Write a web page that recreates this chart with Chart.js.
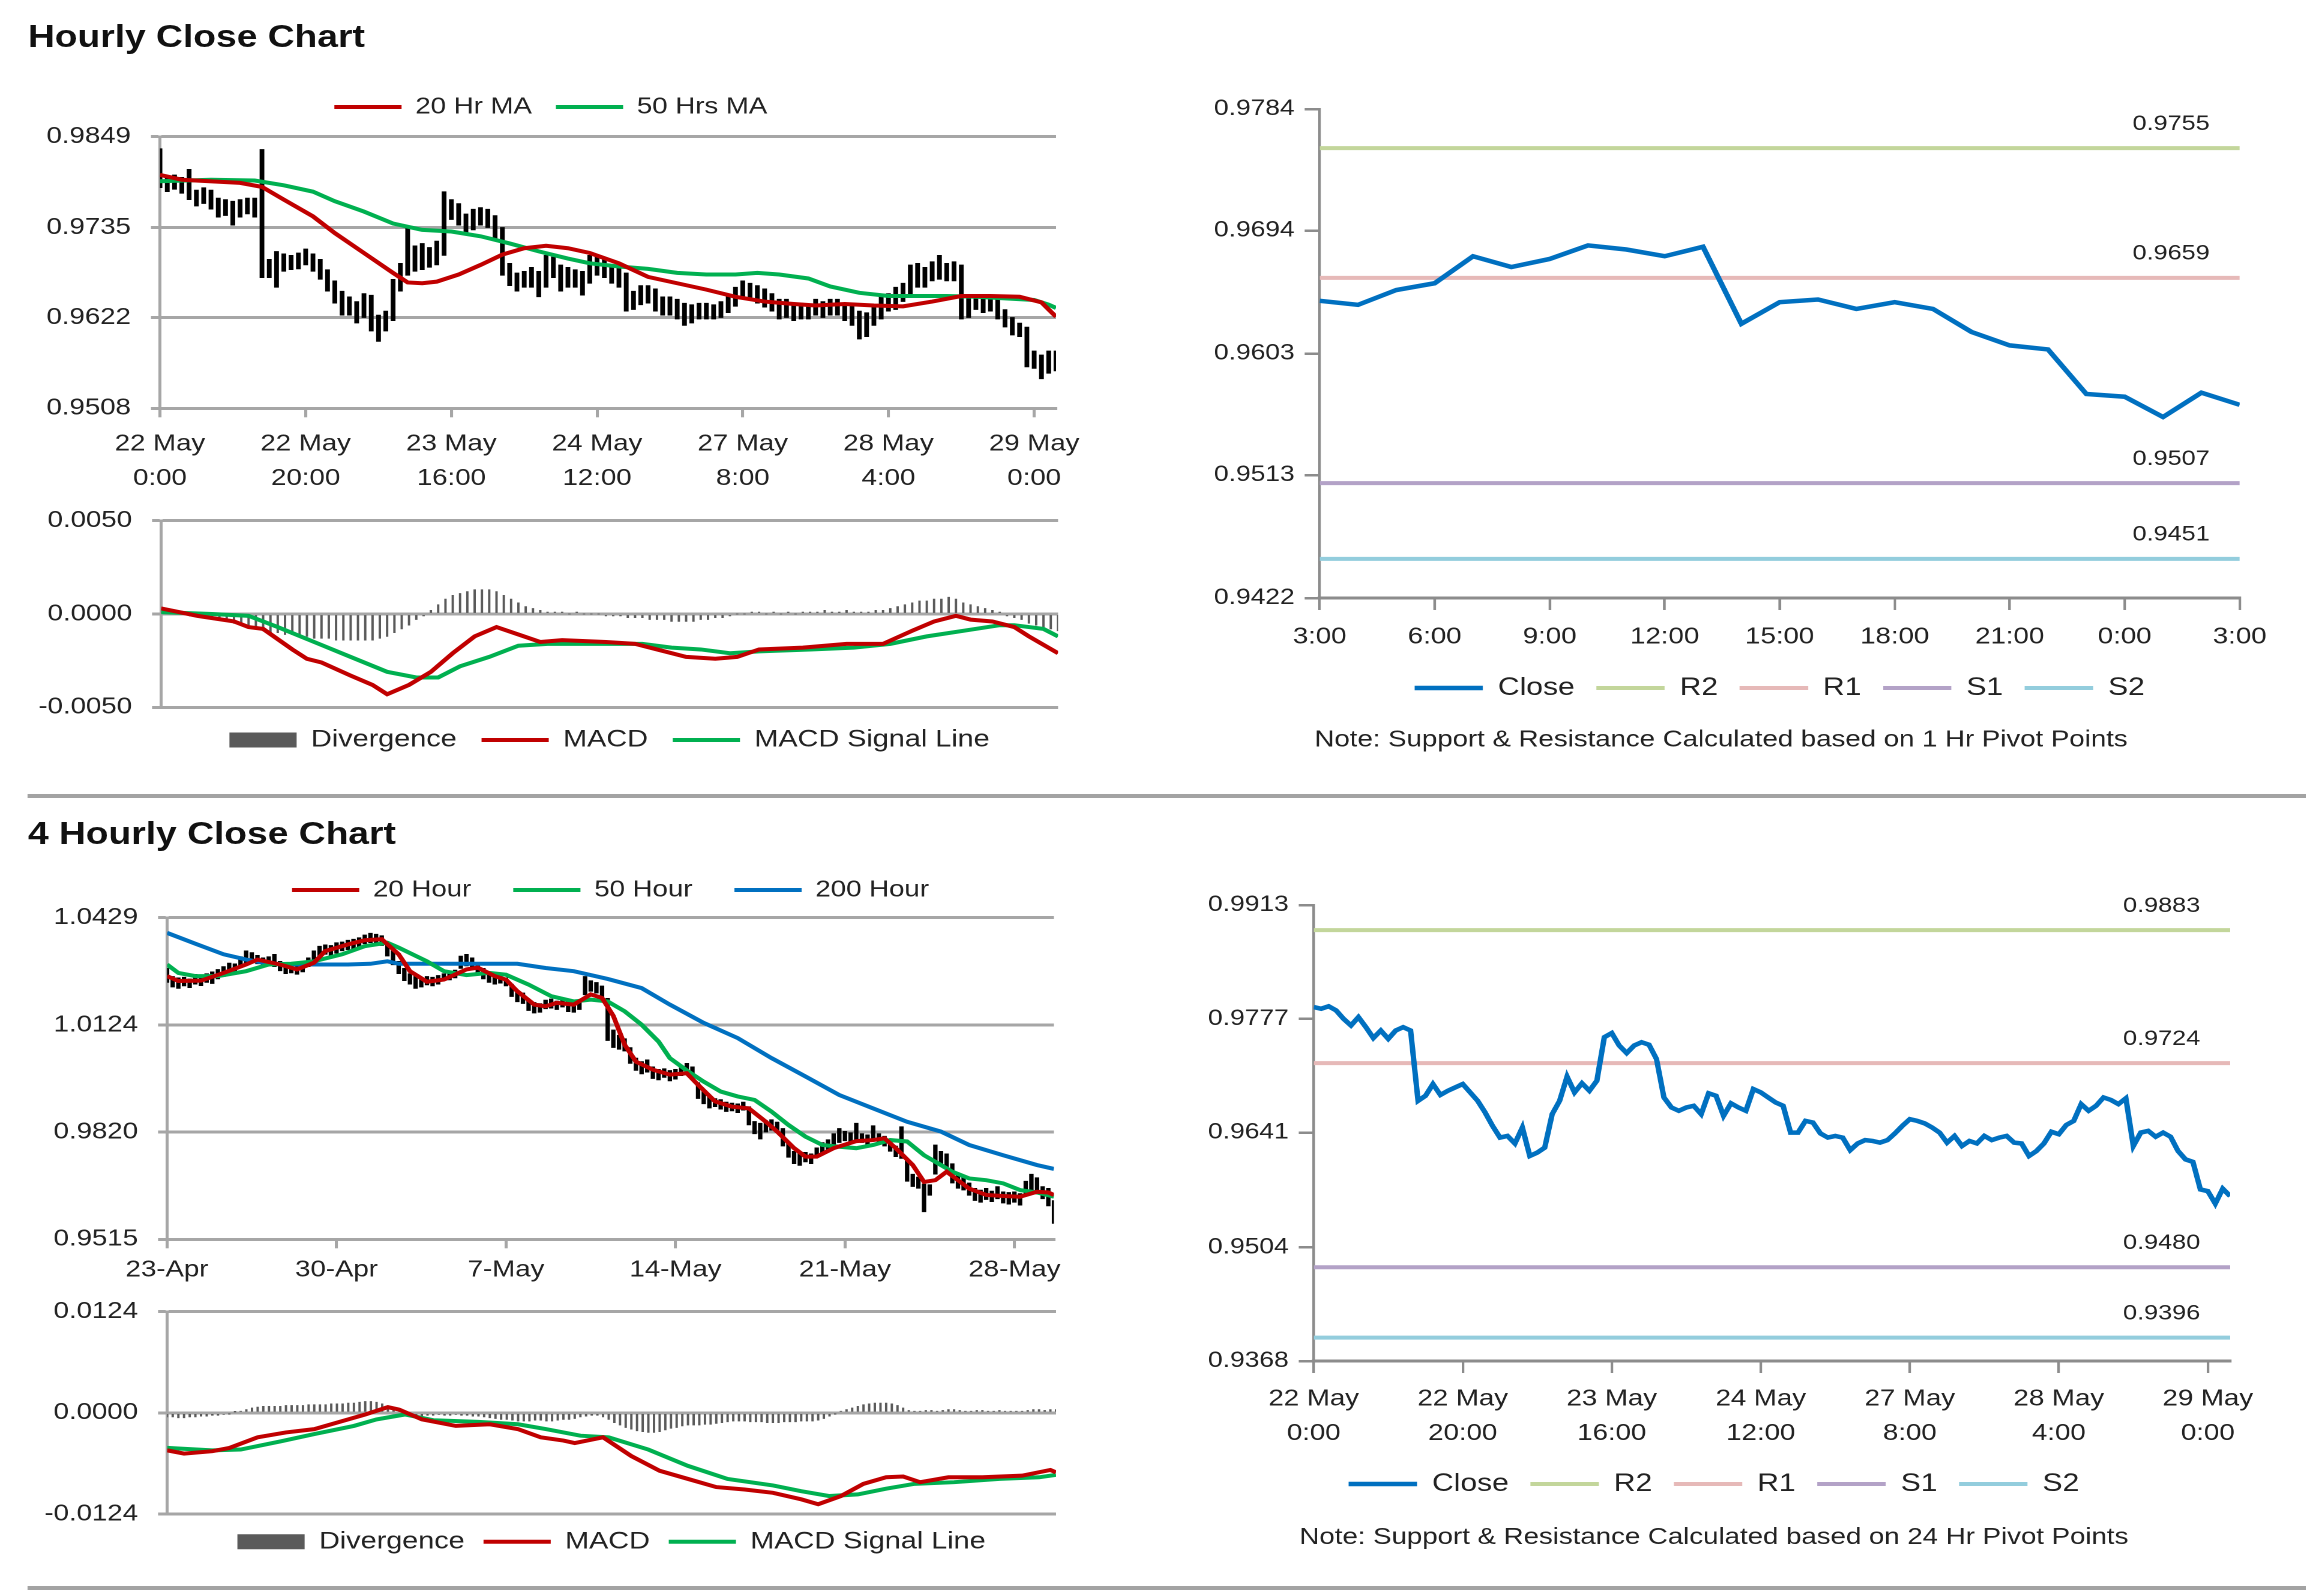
<!DOCTYPE html>
<html>
<head>
<meta charset="utf-8">
<script src="https://cdn.jsdelivr.net/npm/chart.js@4.4.0/dist/chart.umd.min.js"></script>
<style>
  body { margin: 0; background: #fff; width: 2306px; height: 1591px; position: relative; overflow: hidden;
         font-family: "Liberation Sans", Arial, sans-serif; }
  /* the source sheet is drawn 1.2x wider than tall; lay out at 1/1.2 width and stretch */
  #page { position: absolute; left: 0; top: 0; width: 1921.67px; height: 1591px;
          transform: scaleX(1.2); transform-origin: 0 0; }
  .heading { position: absolute; left: 23.3px; font-size: 31px; font-weight: bold; line-height: 1; color: #111; }
  .rule { position: absolute; left: 23.3px; right: 0; height: 4px; background: #a3a3a3; }
  .box { position: absolute; }
</style>
</head>
<body>
<div id="page">
  <div class="heading" style="top:21px">Hourly Close Chart</div>
  <div class="box" style="left:0;top:60px;width:908.3px;height:440px"><canvas id="hourPrice"></canvas></div>
  <div class="box" style="left:0;top:505px;width:908.3px;height:270px"><canvas id="hourMacd"></canvas></div>
  <div class="box" style="left:958.3px;top:85px;width:950px;height:679px"><canvas id="dayClose"></canvas></div>
  <div class="rule" style="top:794px"></div>
  <div class="heading" style="top:818px">4 Hourly Close Chart</div>
  <div class="box" style="left:0;top:840px;width:908.3px;height:450px"><canvas id="fourPrice"></canvas></div>
  <div class="box" style="left:0;top:1295px;width:908.3px;height:280px"><canvas id="fourMacd"></canvas></div>
  <div class="box" style="left:958.3px;top:880px;width:941.7px;height:681px"><canvas id="weekClose"></canvas></div>
  <div class="rule" style="top:1586px"></div>
</div>

<script>
// ---- hourly chart (22 May 0:00 .. 29 May 3:00, one bar per hour) ----
const hourLabels = [['22 May', '0:00'], ['22 May', '20:00'], ['23 May', '16:00'], ['24 May', '12:00'],
                    ['27 May', '8:00'], ['28 May', '4:00'], ['29 May', '0:00']];
const hourPriceTicks = [0.9508, 0.9622, 0.9735, 0.9849];
const hourMacdTicks = [-0.0050, 0, 0.0050];

const closeH = [
  0.9791, 0.9789, 0.9792, 0.9787, 0.9777, 0.9769, 0.9779, 0.9767, 0.9754, 0.9763,
  0.9753, 0.9763, 0.9767, 0.9763, 0.9679, 0.9685, 0.9699, 0.9686, 0.9691, 0.9695,
  0.9699, 0.9689, 0.9679, 0.9665, 0.9649, 0.9635, 0.9637, 0.9628, 0.9647, 0.9613,
  0.9617, 0.9623, 0.9663, 0.9679, 0.9708, 0.9689, 0.9700, 0.9691, 0.9703, 0.9755,
  0.9760, 0.9745, 0.9736, 0.9745, 0.9749, 0.9746, 0.9729, 0.9683, 0.9671, 0.9667,
  0.9671, 0.9673, 0.9663, 0.9688, 0.9685, 0.9661, 0.9676, 0.9671, 0.9667, 0.9693,
  0.9689, 0.9683, 0.9677, 0.9673, 0.9641, 0.9641, 0.9655, 0.9653, 0.9640, 0.9635,
  0.9637, 0.9635, 0.9620, 0.9628, 0.9632, 0.9631, 0.9629, 0.9632, 0.9640, 0.9649,
  0.9657, 0.9655, 0.9652, 0.9647, 0.9641, 0.9629, 0.9637, 0.9625, 0.9631, 0.9628,
  0.9637, 0.9632, 0.9635, 0.9637, 0.9629, 0.9628, 0.9613, 0.9619, 0.9628, 0.9642,
  0.9639, 0.9650, 0.9655, 0.9675, 0.9667, 0.9673, 0.9683, 0.9680, 0.9675, 0.9682,
  0.9625, 0.9641, 0.9643, 0.9636, 0.9641, 0.9636, 0.9619, 0.9609, 0.9606, 0.9573,
  0.9571, 0.9556, 0.9574, 0.9565
];
const lowH = [
  0.9785, 0.9780, 0.9783, 0.9778, 0.9770, 0.9762, 0.9765, 0.9758, 0.9748, 0.9750,
  0.9738, 0.9748, 0.9752, 0.9748, 0.9672, 0.9672, 0.9660, 0.9680, 0.9682, 0.9683,
  0.9688, 0.9680, 0.9670, 0.9655, 0.9640, 0.9625, 0.9625, 0.9615, 0.9622, 0.9605,
  0.9592, 0.9605, 0.9618, 0.9655, 0.9675, 0.9680, 0.9682, 0.9685, 0.9688, 0.9700,
  0.9745, 0.9738, 0.9728, 0.9732, 0.9738, 0.9735, 0.9720, 0.9675, 0.9662, 0.9655,
  0.9660, 0.9660, 0.9648, 0.9660, 0.9672, 0.9655, 0.9660, 0.9660, 0.9650, 0.9665,
  0.9675, 0.9672, 0.9665, 0.9660, 0.9630, 0.9632, 0.9638, 0.9640, 0.9630, 0.9625,
  0.9625, 0.9620, 0.9612, 0.9615, 0.9620, 0.9620, 0.9620, 0.9622, 0.9628, 0.9636,
  0.9645, 0.9645, 0.9640, 0.9635, 0.9630, 0.9620, 0.9622, 0.9618, 0.9620, 0.9620,
  0.9625, 0.9622, 0.9625, 0.9625, 0.9618, 0.9612, 0.9595, 0.9598, 0.9612, 0.9620,
  0.9630, 0.9632, 0.9642, 0.9650, 0.9660, 0.9660, 0.9668, 0.9670, 0.9668, 0.9668,
  0.9620, 0.9622, 0.9632, 0.9628, 0.9630, 0.9620, 0.9610, 0.9600, 0.9598, 0.9560,
  0.9558, 0.9545, 0.9552, 0.9555
];
const highH = [
  0.9834, 0.9800, 0.9801, 0.9798, 0.9808, 0.9782, 0.9785, 0.9782, 0.9772, 0.9770,
  0.9768, 0.9770, 0.9772, 0.9772, 0.9833, 0.9695, 0.9705, 0.9702, 0.9700, 0.9703,
  0.9708, 0.9702, 0.9695, 0.9682, 0.9668, 0.9655, 0.9648, 0.9642, 0.9652, 0.9650,
  0.9625, 0.9630, 0.9670, 0.9690, 0.9735, 0.9712, 0.9715, 0.9710, 0.9718, 0.9780,
  0.9770, 0.9765, 0.9752, 0.9758, 0.9760, 0.9758, 0.9750, 0.9735, 0.9690, 0.9678,
  0.9680, 0.9685, 0.9680, 0.9700, 0.9698, 0.9688, 0.9685, 0.9682, 0.9680, 0.9700,
  0.9700, 0.9695, 0.9688, 0.9685, 0.9678, 0.9655, 0.9662, 0.9662, 0.9658, 0.9648,
  0.9648, 0.9645, 0.9640, 0.9638, 0.9640, 0.9640, 0.9638, 0.9642, 0.9648, 0.9660,
  0.9668, 0.9665, 0.9662, 0.9658, 0.9652, 0.9645, 0.9645, 0.9640, 0.9640, 0.9638,
  0.9645, 0.9642, 0.9645, 0.9645, 0.9640, 0.9638, 0.9630, 0.9628, 0.9635, 0.9650,
  0.9652, 0.9660, 0.9665, 0.9688, 0.9690, 0.9685, 0.9692, 0.9700, 0.9690, 0.9692,
  0.9688, 0.9648, 0.9650, 0.9648, 0.9648, 0.9645, 0.9632, 0.9622, 0.9615, 0.9610,
  0.9580, 0.9575, 0.9580, 0.9580
];
// moving averages and MACD at these bar indexes
const ma20H = [[0, 0.9801], [3, 0.9795], [11, 0.9791], [14, 0.9786], [17, 0.9770], [21, 0.9749], [24, 0.9728],
  [28, 0.9703], [32, 0.9678], [34, 0.9666], [36, 0.9665], [38, 0.9667], [41, 0.9676], [44, 0.9688], [47, 0.9701],
  [50, 0.9709], [53, 0.9712], [56, 0.9709], [59, 0.9703], [63, 0.9690], [67, 0.9673], [71, 0.9665], [75, 0.9657],
  [79, 0.9648], [83, 0.9642], [87, 0.9639], [90, 0.9637], [94, 0.9639], [98, 0.9637], [102, 0.9636], [106, 0.9642],
  [110, 0.9649], [114, 0.9649], [118, 0.9648], [121, 0.9641], [122, 0.9632], [123, 0.9623]];
const ma50H = [[0, 0.9793], [7, 0.9795], [13, 0.9794], [17, 0.9788], [21, 0.9780], [24, 0.9768], [28, 0.9755],
  [32, 0.9740], [36, 0.9732], [40, 0.9730], [44, 0.9724], [48, 0.9715], [52, 0.9705], [56, 0.9696], [59, 0.9690],
  [63, 0.9686], [67, 0.9683], [71, 0.9678], [75, 0.9676], [79, 0.9676], [82, 0.9678], [85, 0.9676], [89, 0.9671],
  [92, 0.9661], [96, 0.9653], [100, 0.9649], [104, 0.9649], [108, 0.9649], [112, 0.9648], [116, 0.9646],
  [120, 0.9644], [122, 0.9638], [123, 0.9634]];
const macdH = [[0, 0.0003], [5, -0.0001], [10, -0.0004], [12, -0.0007], [14, -0.0008], [18, -0.0019], [20, -0.0024],
  [22, -0.0026], [26, -0.0033], [29, -0.0038], [31, -0.0043], [34, -0.0038], [37, -0.0031], [40, -0.0021],
  [43, -0.0012], [46, -0.0007], [49, -0.0011], [52, -0.0015], [55, -0.0014], [61, -0.0015], [65, -0.0016],
  [68, -0.0019], [72, -0.0023], [76, -0.0024], [79, -0.0023], [82, -0.0019], [88, -0.0018], [94, -0.0016],
  [99, -0.0016], [103, -0.0009], [106, -0.0004], [109, -0.0001], [111, -0.0003], [114, -0.0004], [117, -0.0007],
  [119, -0.0012], [123, -0.0021]];
const signalH = [[0, 0.0001], [7, 0.0000], [12, -0.0001], [16, -0.0007], [21, -0.0015], [26, -0.0023], [31, -0.0031],
  [35, -0.0034], [38, -0.0034], [41, -0.0028], [45, -0.0023], [49, -0.0017], [53, -0.0016], [60, -0.0016],
  [66, -0.0016], [70, -0.0018], [74, -0.0019], [78, -0.0021], [82, -0.0020], [89, -0.0019], [95, -0.0018],
  [100, -0.0016], [105, -0.0012], [110, -0.0009], [115, -0.0006], [117, -0.0006], [121, -0.0008], [123, -0.0012]];
const divH = [
  0.0001, 0.0001, 0.0000, 0.0000, -0.0001, -0.0001, -0.0002, -0.0002, -0.0003, -0.0004,
  -0.0005, -0.0006, -0.0007, -0.0008, -0.0009, -0.0010, -0.0010, -0.0011, -0.0011, -0.0012,
  -0.0012, -0.0013, -0.0013, -0.0013, -0.0014, -0.0014, -0.0014, -0.0014, -0.0014, -0.0014,
  -0.0013, -0.0012, -0.0010, -0.0008, -0.0006, -0.0003, -0.0001, 0.0002, 0.0005, 0.0008,
  0.0010, 0.0011, 0.0012, 0.0013, 0.0013, 0.0013, 0.0012, 0.0010, 0.0008, 0.0006,
  0.0004, 0.0003, 0.0002, 0.0001, 0.0001, 0.0001, 0.0000, 0.0001, 0.0000, 0.0000,
  0.0000, -0.0001, -0.0001, -0.0001, -0.0002, -0.0002, -0.0002, -0.0003, -0.0003, -0.0003,
  -0.0004, -0.0004, -0.0004, -0.0004, -0.0003, -0.0003, -0.0002, -0.0002, -0.0001, 0.0000,
  0.0000, 0.0001, 0.0001, 0.0000, 0.0001, 0.0000, 0.0001, 0.0000, 0.0001, 0.0001,
  0.0001, 0.0002, 0.0001, 0.0001, 0.0002, 0.0001, 0.0001, 0.0001, 0.0002, 0.0002,
  0.0003, 0.0004, 0.0005, 0.0006, 0.0007, 0.0007, 0.0008, 0.0008, 0.0009, 0.0008,
  0.0006, 0.0005, 0.0004, 0.0003, 0.0002, 0.0001, -0.0001, -0.0002, -0.0003, -0.0005,
  -0.0006, -0.0007, -0.0008, -0.0009
];

// ---- last 24 hours (3:00 .. 3:00) with 1 hr pivot levels ----
const dayLabels = ['3:00', '6:00', '9:00', '12:00', '15:00', '18:00', '21:00', '0:00', '3:00'];
const dayTicks = [0.9422, 0.9513, 0.9603, 0.9694, 0.9784];
const close24 = [0.9642, 0.9639, 0.9650, 0.9655, 0.9675, 0.9667, 0.9673, 0.9683, 0.9680, 0.9675, 0.9682, 0.9625,
  0.9641, 0.9643, 0.9636, 0.9641, 0.9636, 0.9619, 0.9609, 0.9606, 0.9573, 0.9571, 0.9556, 0.9574, 0.9565];
const levelNames = ['R2', 'R1', 'S1', 'S2'];
const dayLevels = [0.9755, 0.9659, 0.9507, 0.9451];

// ---- 4 hourly chart (23 Apr .. 29 May, 30 bars a week) ----
const fourLabels = ['23-Apr', '30-Apr', '7-May', '14-May', '21-May', '28-May'];
const fourPriceTicks = [0.9515, 0.9820, 1.0124, 1.0429];
const fourMacdTicks = [-0.0124, 0, 0.0124];
const low4 = [
  1.0245, 1.0232, 1.0228, 1.0235, 1.0230, 1.0240, 1.0236, 1.0245, 1.0242, 1.0255,
  1.0262, 1.0270, 1.0275, 1.0290, 1.0300, 1.0305, 1.0298, 1.0292, 1.0295, 1.0290,
  1.0278, 1.0270, 1.0272, 1.0268, 1.0275, 1.0290, 1.0305, 1.0318, 1.0325, 1.0322,
  1.0328, 1.0335, 1.0338, 1.0340, 1.0345, 1.0355, 1.0358, 1.0352, 1.0350, 1.0320,
  1.0295, 1.0270, 1.0250, 1.0240, 1.0228, 1.0232, 1.0238, 1.0235, 1.0240, 1.0250,
  1.0252, 1.0258, 1.0285, 1.0292, 1.0290, 1.0270, 1.0255, 1.0245, 1.0240, 1.0243,
  1.0235, 1.0205, 1.0190, 1.0185, 1.0165, 1.0158, 1.0160, 1.0170, 1.0172, 1.0168,
  1.0175, 1.0162, 1.0160, 1.0168, 1.0210, 1.0220, 1.0215, 1.0195, 1.0080, 1.0060,
  1.0055, 1.0050, 1.0015, 0.9995, 0.9985, 0.9990, 0.9972, 0.9968, 0.9975, 0.9965,
  0.9970, 0.9980, 0.9985, 0.9975, 0.9915, 0.9900, 0.9888, 0.9892, 0.9885, 0.9878,
  0.9880, 0.9875, 0.9882, 0.9840, 0.9815, 0.9800, 0.9820, 0.9825, 0.9818, 0.9780,
  0.9748, 0.9730, 0.9725, 0.9735, 0.9730, 0.9748, 0.9760, 0.9770, 0.9785, 0.9790,
  0.9795, 0.9788, 0.9792, 0.9790, 0.9785, 0.9795, 0.9790, 0.9780, 0.9765, 0.9750,
  0.9745, 0.9680, 0.9665, 0.9660, 0.9593, 0.9640, 0.9700, 0.9725, 0.9720, 0.9675,
  0.9660, 0.9655, 0.9640, 0.9625, 0.9620, 0.9628, 0.9622, 0.9630, 0.9618, 0.9615,
  0.9620, 0.9612, 0.9640, 0.9655, 0.9650, 0.9630, 0.9610, 0.9560
];
const high4 = [
  1.0285, 1.0262, 1.0258, 1.0260, 1.0255, 1.0268, 1.0262, 1.0270, 1.0275, 1.0282,
  1.0290, 1.0300, 1.0298, 1.0318, 1.0335, 1.0330, 1.0322, 1.0315, 1.0318, 1.0325,
  1.0305, 1.0295, 1.0292, 1.0290, 1.0298, 1.0315, 1.0335, 1.0348, 1.0352, 1.0350,
  1.0358, 1.0360, 1.0365, 1.0368, 1.0372, 1.0380, 1.0385, 1.0382, 1.0378, 1.0355,
  1.0335, 1.0305, 1.0285, 1.0270, 1.0262, 1.0258, 1.0262, 1.0260, 1.0265, 1.0270,
  1.0275, 1.0280, 1.0320, 1.0325, 1.0315, 1.0300, 1.0285, 1.0275, 1.0268, 1.0262,
  1.0258, 1.0240, 1.0222, 1.0215, 1.0195, 1.0188, 1.0185, 1.0195, 1.0198, 1.0192,
  1.0200, 1.0190, 1.0185, 1.0192, 1.0262, 1.0250, 1.0245, 1.0235, 1.0200, 1.0110,
  1.0095, 1.0085, 1.0060, 1.0030, 1.0020, 1.0025, 1.0005, 0.9998, 1.0000, 0.9995,
  0.9998, 1.0008, 1.0015, 1.0005, 0.9960, 0.9935, 0.9920, 0.9915, 0.9912, 0.9905,
  0.9902, 0.9900, 0.9905, 0.9892, 0.9850, 0.9845, 0.9852, 0.9855, 0.9848, 0.9830,
  0.9790, 0.9765, 0.9760, 0.9762, 0.9758, 0.9775, 0.9790, 0.9798, 0.9815, 0.9830,
  0.9822, 0.9818, 0.9845, 0.9815, 0.9812, 0.9838, 0.9815, 0.9808, 0.9800, 0.9780,
  0.9835, 0.9740, 0.9700, 0.9692, 0.9672, 0.9670, 0.9783, 0.9765, 0.9758, 0.9730,
  0.9700, 0.9690, 0.9675, 0.9660, 0.9655, 0.9660, 0.9652, 0.9665, 0.9650, 0.9648,
  0.9650, 0.9645, 0.9680, 0.9700, 0.9690, 0.9665, 0.9660, 0.9625
];
const ma20_4 = [[0, 1.0263], [2, 1.0249], [6, 1.0250], [10, 1.0272], [14, 1.0296], [16, 1.0310], [20, 1.0296],
  [23, 1.0282], [26, 1.0301], [28, 1.0334], [32, 1.0353], [35, 1.0365], [38, 1.0368], [41, 1.0325], [43, 1.0277],
  [46, 1.0247], [49, 1.0253], [53, 1.0282], [55, 1.0287], [58, 1.0263], [60, 1.0253], [62, 1.0220], [65, 1.0182],
  [67, 1.0177], [69, 1.0187], [72, 1.0182], [75, 1.0211], [77, 1.0201], [79, 1.0150], [81, 1.0068], [83, 1.0020],
  [86, 0.9997], [89, 0.9983], [92, 0.9987], [94, 0.9954], [97, 0.9907], [100, 0.9892], [103, 0.9887],
  [106, 0.9849], [108, 0.9821], [111, 0.9774], [113, 0.9750], [115, 0.9750], [118, 0.9774], [122, 0.9794],
  [125, 0.9797], [127, 0.9802], [129, 0.9774], [132, 0.9726], [134, 0.9678], [136, 0.9683], [138, 0.9707],
  [140, 0.9683], [142, 0.9659], [145, 0.9641], [148, 0.9638], [151, 0.9636], [154, 0.9650], [156, 0.9648],
  [157, 0.9641]];
const ma50_4 = [[0, 1.0296], [2, 1.0272], [5, 1.0263], [9, 1.0263], [14, 1.0277], [18, 1.0296], [22, 1.0298],
  [26, 1.0305], [31, 1.0325], [35, 1.0348], [39, 1.0358], [41, 1.0344], [46, 1.0305], [49, 1.0277], [53, 1.0266],
  [57, 1.0272], [60, 1.0267], [64, 1.0239], [68, 1.0206], [72, 1.0191], [75, 1.0196], [78, 1.0191], [81, 1.0163],
  [84, 1.0125], [87, 1.0077], [89, 1.0030], [92, 0.9995], [95, 0.9963], [98, 0.9935], [101, 0.9921],
  [104, 0.9911], [107, 0.9878], [110, 0.9840], [113, 0.9807], [116, 0.9783], [119, 0.9778], [122, 0.9774],
  [125, 0.9783], [128, 0.9797], [131, 0.9793], [134, 0.9754], [137, 0.9726], [139, 0.9707], [142, 0.9688],
  [145, 0.9683], [148, 0.9674], [151, 0.9655], [154, 0.9648], [157, 0.9636]];
const ma200_4 = [[0, 1.0386], [5, 1.0355], [10, 1.0325], [14, 1.0310], [18, 1.0298], [25, 1.0296], [32, 1.0296],
  [36, 1.0298], [39, 1.0305], [41, 1.0298], [50, 1.0298], [62, 1.0298], [67, 1.0286], [72, 1.0277], [78, 1.0255],
  [84, 1.0229], [89, 1.0182], [95, 1.0130], [101, 1.0087], [107, 1.0030], [113, 0.9978], [119, 0.9925],
  [125, 0.9887], [131, 0.9849], [137, 0.9821], [142, 0.9783], [148, 0.9754], [154, 0.9726], [157, 0.9715]];
const macd4 = [[0, -0.0046], [3, -0.0050], [8, -0.0047], [11, -0.0043], [16, -0.0030], [21, -0.0024], [26, -0.0020],
  [30, -0.0012], [35, -0.0002], [39, 0.0007], [41, 0.0004], [45, -0.0008], [51, -0.0016], [57, -0.0014],
  [62, -0.0020], [66, -0.0030], [70, -0.0034], [72, -0.0037], [77, -0.0030], [82, -0.0053], [87, -0.0071],
  [92, -0.0081], [97, -0.0091], [102, -0.0094], [107, -0.0098], [112, -0.0106], [115, -0.0112], [119, -0.0102],
  [123, -0.0087], [127, -0.0079], [130, -0.0078], [133, -0.0085], [138, -0.0079], [144, -0.0079], [151, -0.0077],
  [156, -0.0070], [157, -0.0073]];
const signal4 = [[0, -0.0043], [8, -0.0046], [13, -0.0045], [20, -0.0035], [26, -0.0026], [33, -0.0016],
  [37, -0.0008], [42, -0.0002], [47, -0.0009], [55, -0.0011], [62, -0.0014], [67, -0.0020], [73, -0.0028],
  [78, -0.0030], [85, -0.0045], [92, -0.0065], [99, -0.0081], [107, -0.0089], [112, -0.0096], [117, -0.0102],
  [122, -0.0100], [127, -0.0093], [132, -0.0087], [139, -0.0085], [147, -0.0081], [154, -0.0079], [157, -0.0076]];
const div4 = [
  -0.0005, -0.0005, -0.0006, -0.0006, -0.0005, -0.0005, -0.0004, -0.0004, -0.0003, -0.0003,
  -0.0002, -0.0001, 0.0001, 0.0002, 0.0004, 0.0006, 0.0007, 0.0008, 0.0008, 0.0008,
  0.0008, 0.0009, 0.0009, 0.0009, 0.0009, 0.0010, 0.0010, 0.0010, 0.0010, 0.0011,
  0.0011, 0.0011, 0.0012, 0.0012, 0.0013, 0.0014, 0.0014, 0.0013, 0.0011, 0.0008,
  0.0005, 0.0002, -0.0001, -0.0003, -0.0003, -0.0004, -0.0003, -0.0003, -0.0002, -0.0003,
  -0.0003, -0.0002, -0.0003, -0.0003, -0.0004, -0.0004, -0.0005, -0.0006, -0.0007, -0.0008,
  -0.0008, -0.0009, -0.0010, -0.0010, -0.0010, -0.0009, -0.0009, -0.0010, -0.0010, -0.0009,
  -0.0008, -0.0008, -0.0007, -0.0005, -0.0004, -0.0003, -0.0003, -0.0005, -0.0008, -0.0012,
  -0.0015, -0.0018, -0.0020, -0.0022, -0.0023, -0.0024, -0.0024, -0.0023, -0.0021, -0.0019,
  -0.0018, -0.0016, -0.0015, -0.0015, -0.0015, -0.0014, -0.0014, -0.0013, -0.0012, -0.0011,
  -0.0010, -0.0010, -0.0010, -0.0011, -0.0011, -0.0011, -0.0012, -0.0012, -0.0012, -0.0011,
  -0.0011, -0.0011, -0.0010, -0.0010, -0.0010, -0.0009, -0.0007, -0.0004, -0.0001, 0.0002,
  0.0004, 0.0006, 0.0008, 0.0010, 0.0011, 0.0012, 0.0012, 0.0012, 0.0011, 0.0009,
  0.0006, 0.0003, 0.0002, 0.0002, 0.0003, 0.0003, 0.0002, 0.0003, 0.0004, 0.0004,
  0.0003, 0.0002, 0.0002, 0.0003, 0.0003, 0.0002, 0.0002, 0.0003, 0.0002, 0.0002,
  0.0002, 0.0002, 0.0003, 0.0004, 0.0004, 0.0003, 0.0004, 0.0004
];

// ---- week of hourly closes (closeH) with 24 hr pivot levels ----
const weekTicks = [0.9368, 0.9504, 0.9641, 0.9777, 0.9913];
const weekLevels = [0.9883, 0.9724, 0.9480, 0.9396];

// ---------------------------------------------------------------------
const FONT = '"Liberation Sans", Arial, sans-serif';
const TEXT = '#222';
const GRID = '#a6a6a6';
const AXIS = '#8c8c8c';
const RED = '#c00000';
const GREEN = '#00b050';
const BLUE = '#0070c0';
const LEVEL_COLORS = ['#c3d69b', '#e6b9b8', '#b3a2c7', '#93cddd'];

Chart.defaults.font.family = FONT;
Chart.defaults.color = TEXT;
Chart.defaults.animation = false;
Chart.defaults.maintainAspectRatio = false;
Chart.defaults.devicePixelRatio = 2;
Chart.defaults.plugins.tooltip.enabled = false;

const fmt4 = v => Number(v).toFixed(4);
const pts = pairs => pairs.map(([x, y]) => ({ x, y }));
const series = arr => arr.map((y, x) => ({ x, y }));
const fixedTicks = values => scale => { scale.ticks = values.map(v => ({ value: v })); };
const fixWidth = w => scale => { scale.width = w; scale.paddingTop = 0; scale.paddingBottom = 0; };
const fixHeight = h => scale => { scale.height = h; scale.paddingLeft = 0; scale.paddingRight = 0; };

function legendItems(chart) {
  return Chart.defaults.plugins.legend.labels.generateLabels(chart)
    .filter(item => item.text)
    .map(item => {
      const ds = chart.data.datasets[item.datasetIndex];
      if (ds.type === 'bar') {
        item.pointStyle = 'rect'; item.lineWidth = 0; item.fillStyle = ds.backgroundColor;
      } else {
        item.pointStyle = 'line'; item.lineWidth = ds.borderWidth; item.strokeStyle = ds.borderColor;
      }
      return item;
    })
    .sort((a, b) => a.datasetIndex - b.datasetIndex);
}

function legend(position, size, padding, symbol, fullSize) {
  return {
    position, fullSize,
    labels: { usePointStyle: true, pointStyleWidth: symbol, boxHeight: 15, padding,
              color: TEXT, font: { size }, generateLabels: legendItems }
  };
}

// extra room under a legend (the price legends sit well above the plot)
const legendGap = {
  id: 'legendGap',
  afterInit(chart, args, opts) {
    const fit = chart.legend.fit;
    chart.legend.fit = function () { fit.call(this); this.height += opts.gap || 0; };
  }
};

function leftY(min, max, ticks, width) {
  return {
    type: 'linear', min, max, afterBuildTicks: fixedTicks(ticks), afterFit: fixWidth(width),
    grid: { color: GRID, lineWidth: 3, tickLength: 7.5 },
    border: { color: GRID, width: 2.5 },
    ticks: { padding: 16.7, color: TEXT, font: { size: 23 }, callback: fmt4 }
  };
}

function rightY(min, max, ticks, width) {
  return {
    type: 'linear', min, max, afterBuildTicks: fixedTicks(ticks), afterFit: fixWidth(width),
    grid: { drawOnChartArea: false, color: AXIS, lineWidth: 2.5, tickLength: 12.5 },
    border: { color: AXIS, width: 2.2 },
    ticks: { padding: 8.3, color: TEXT, font: { size: 22 }, callback: fmt4 }
  };
}

function bottomX(max, ticks, labels, height, padding, tickLength, color, width, lineHeight) {
  return {
    type: 'linear', min: 0, max, offset: false, afterBuildTicks: fixedTicks(ticks), afterFit: fixHeight(height),
    grid: { drawOnChartArea: false, offset: false, color, lineWidth: width * 0.85, tickLength },
    border: { color, width: 3 },
    ticks: { padding, maxRotation: 0, autoSkip: false, color: TEXT, font: { size: 23, lineHeight },
             callback: (v, i) => labels[i] }
  };
}

function hiddenX(max) {
  return { type: 'linear', min: 0, max, offset: false, display: false };
}

function lineSet(label, data, color, width) {
  return { label, data, borderColor: color, backgroundColor: color, borderWidth: width, pointRadius: 0, fill: false };
}

function levelSets(levels, last) {
  return levelNames.map((name, k) => Object.assign(
    lineSet(name, [{ x: 0, y: levels[k] }, { x: last, y: levels[k] }], LEVEL_COLORS[k], 4),
    { level: levels[k] }));
}

const levelLabels = {
  id: 'levelLabels',
  afterDatasetsDraw(chart) {
    const { ctx, chartArea, scales } = chart;
    ctx.save();
    ctx.font = '21px ' + FONT;
    ctx.fillStyle = TEXT;
    ctx.textAlign = 'right';
    ctx.textBaseline = 'middle';
    chart.data.datasets.forEach(ds => {
      if (ds.level === undefined) return;
      ctx.fillText(fmt4(ds.level), chartArea.right - 25, scales.y.getPixelForValue(ds.level) - 24);
    });
    ctx.restore();
  }
};

const hourTickPos = hourLabels.map((_, k) => k * 20);
const dayTickPos = dayLabels.map((_, k) => k * 3);
const fourTickPos = fourLabels.map((_, k) => k * 30);

function note(text, top) {
  return { display: true, position: 'bottom', text, color: TEXT, font: { size: 23, weight: 'normal' },
           padding: { top, bottom: 5 } };
}

// Hourly price bars + MAs
new Chart(document.getElementById('hourPrice'), {
  type: 'line',
  data: { datasets: [
    lineSet('20 Hr MA', pts(ma20H), RED, 4),
    lineSet('50 Hrs MA', pts(ma50H), GREEN, 4),
    { type: 'bar', label: '', data: lowH.map((lo, i) => ({ x: i, y: [lo, highH[i]] })),
      backgroundColor: '#000', barThickness: 3.3 }
  ] },
  options: {
    layout: { padding: { left: 38, right: 28.3, top: 15.5, bottom: 3.7 } },
    plugins: { legend: legend('top', 23, 20, 56, true), legendGap: { gap: 8.2 } },
    scales: {
      x: bottomX(closeH.length - 1, hourTickPos, hourLabels, 88, 9.5, 9, GRID, 3, 1.5),
      y: leftY(0.9508, 0.9849, hourPriceTicks, 95.3)
    }
  },
  plugins: [legendGap]
});

// Hourly MACD
new Chart(document.getElementById('hourMacd'), {
  type: 'line',
  data: { datasets: [
    { type: 'bar', label: 'Divergence', data: series(divH), backgroundColor: '#5a5a5a', barThickness: 1.3, order: 3 },
    Object.assign(lineSet('MACD', pts(macdH), RED, 4), { order: 1 }),
    Object.assign(lineSet('MACD Signal Line', pts(signalH), GREEN, 4), { order: 2 })
  ] },
  options: {
    layout: { padding: { left: 10, right: 26.6, top: 15.7, bottom: 13 } },
    plugins: { legend: legend('bottom', 24, 20.7, 56, false) },
    scales: { x: hiddenX(divH.length - 1), y: leftY(-0.0050, 0.0050, hourMacdTicks, 124.2) }
  }
});

// Last 24 hours close with 1 hr pivots
new Chart(document.getElementById('dayClose'), {
  type: 'line',
  data: { datasets: [lineSet('Close', series(close24), BLUE, 4.5)].concat(levelSets(dayLevels, close24.length - 1)) },
  options: {
    layout: { padding: { left: 44, right: 41.6, top: 24, bottom: 5.2 } },
    plugins: {
      legend: legend('bottom', 25, 18, 57, false),
      title: note('Note: Support & Resistance Calculated based on 1 Hr Pivot Points', 15.7)
    },
    scales: {
      x: bottomX(close24.length - 1, dayTickPos, dayLabels, 59.5, 13.2, 12, AXIS, 2.5, 1.2),
      y: rightY(0.9422, 0.9784, dayTicks, 97.7)
    }
  },
  plugins: [levelLabels]
});

// 4 hourly price bars + MAs
new Chart(document.getElementById('fourPrice'), {
  type: 'line',
  data: { datasets: [
    lineSet('20 Hour', pts(ma20_4), RED, 4),
    lineSet('50 Hour', pts(ma50_4), GREEN, 4),
    lineSet('200 Hour', pts(ma200_4), BLUE, 4),
    { type: 'bar', label: '', data: low4.map((lo, i) => ({ x: i, y: [lo, high4[i]] })),
      backgroundColor: '#000', barThickness: 3 }
  ] },
  options: {
    layout: { padding: { left: 10, right: 30, top: 3.5, bottom: 5 } },
    plugins: { legend: legend('top', 23, 35, 56, false), legendGap: { gap: 6.2 } },
    scales: {
      x: bottomX(low4.length - 1, fourTickPos, fourLabels, 45.7, 7.9, 9, GRID, 3, 1.2),
      y: leftY(0.9515, 1.0429, fourPriceTicks, 129.2)
    }
  },
  plugins: [legendGap]
});

// 4 hourly MACD
new Chart(document.getElementById('fourMacd'), {
  type: 'line',
  data: { datasets: [
    { type: 'bar', label: 'Divergence', data: series(div4), backgroundColor: '#5a5a5a', barThickness: 1.3, order: 3 },
    Object.assign(lineSet('MACD', pts(macd4), RED, 4), { order: 1 }),
    Object.assign(lineSet('MACD Signal Line', pts(signal4), GREEN, 4), { order: 2 })
  ] },
  options: {
    layout: { padding: { left: 10, right: 28.3, top: 16.7, bottom: 11.3 } },
    plugins: { legend: legend('bottom', 24, 15.7, 56, false) },
    scales: { x: hiddenX(div4.length - 1), y: leftY(-0.0124, 0.0124, fourMacdTicks, 129.2) }
  }
});

// Week of hourly closes with 24 hr pivots
new Chart(document.getElementById('weekClose'), {
  type: 'line',
  data: { datasets: [lineSet('Close', series(closeH), BLUE, 4.5)].concat(levelSets(weekLevels, closeH.length - 1)) },
  options: {
    layout: { padding: { left: 40, right: 41.7, top: 25, bottom: 4.7 } },
    plugins: {
      legend: legend('bottom', 25, 18, 57, true),
      title: note('Note: Support & Resistance Calculated based on 24 Hr Pivot Points', 17.2)
    },
    scales: {
      x: bottomX(closeH.length - 1, hourTickPos, hourLabels, 92.5, 8.75, 12, AXIS, 2.5, 1.5),
      y: rightY(0.9368, 0.9913, weekTicks, 96.7)
    }
  },
  plugins: [levelLabels]
});
</script>
</body>
</html>
